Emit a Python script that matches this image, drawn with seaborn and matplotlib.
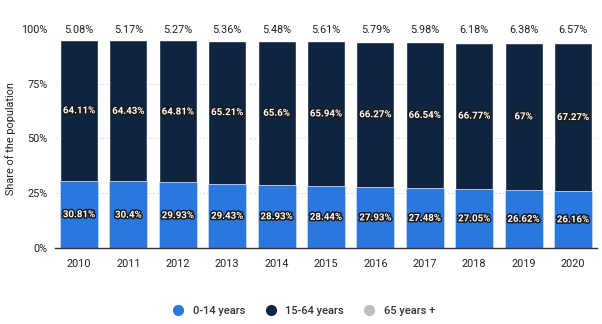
import matplotlib
matplotlib.use("Agg")
import matplotlib.pyplot as plt
import matplotlib.patheffects as pe
from matplotlib.lines import Line2D
import seaborn as sns
import pandas as pd
import numpy as np

years = ["2010", "2011", "2012", "2013", "2014", "2015", "2016", "2017", "2018", "2019", "2020"]
young = [30.81, 30.4, 29.93, 29.43, 28.93, 28.44, 27.93, 27.48, 27.05, 26.62, 26.16]
working = [64.11, 64.43, 64.81, 65.21, 65.6, 65.94, 66.27, 66.54, 66.77, 67.0, 67.27]
old = [5.08, 5.17, 5.27, 5.36, 5.48, 5.61, 5.79, 5.98, 6.18, 6.38, 6.57]
series_names = ["0-14 years", "15-64 years", "65 years +"]
colors = ["#2a77de", "#0f243f", "#bdbdbd"]

df = pd.DataFrame({"year": years, "young": young, "working": working, "old": old})
df["c1"] = df["young"]
df["c2"] = df["young"] + df["working"]
df["c3"] = df["c2"] + df["old"]

sns.set_theme(style="white")
plt.rcParams["font.family"] = ["Roboto", "DejaVu Sans"]

fig = plt.figure(figsize=(6.02, 3.24), dpi=100)
ax = fig.add_axes([0.091, 0.2346, 0.901, 0.676])

w = 0.77
sns.barplot(data=df, x="year", y="c3", color="white", width=w, ax=ax, saturation=1, zorder=2)
sns.barplot(data=df, x="year", y="c2", color=colors[1], width=w, ax=ax, saturation=1, zorder=3)
sns.barplot(data=df, x="year", y="c1", color=colors[0], width=w, ax=ax, saturation=1, zorder=4,
            edgecolor="#c8d6ec", linewidth=0.6)

ax.set_ylim(0, 100)
ax.set_xlim(-0.49, len(years) - 0.51)
ax.set_yticks([0, 25, 50, 75, 100])
ax.set_yticklabels(["0%", "25%", "50%", "75%", "100%"])
ax.tick_params(axis="both", labelsize=7.8, colors="#222222", length=0, pad=5)
ax.tick_params(axis="x", pad=8)
ax.set_xlabel("")
ax.set_ylabel("Share of the population", fontsize=7.8, color="#222222")
ax.yaxis.set_label_coords(-0.071, 0.5)
for v in [25, 50, 75]:
    ax.axhline(v, color="#d6d6d6", lw=0.7, ls=(0, (2, 2)), zorder=1)
for s in ["top", "right", "left"]:
    ax.spines[s].set_visible(False)
ax.spines["bottom"].set_color("#333333")
ax.spines["bottom"].set_linewidth(1.0)
ax.spines["bottom"].set_zorder(6)

stroke = [pe.withStroke(linewidth=2.2, foreground="#1a1a1a")]
for i in range(len(years)):
    ax.text(i, df["c1"][i] / 2, f"{young[i]:g}%", ha="center", va="center", fontsize=7,
            fontweight="bold", color="white", path_effects=stroke, zorder=7)
    ax.text(i, df["c1"][i] + working[i] / 2, f"{working[i]:g}%", ha="center", va="center", fontsize=7,
            fontweight="bold", color="white", path_effects=stroke, zorder=7)
    ax.text(i, 99.5, f"{old[i]:g}%", ha="center", va="center", fontsize=7.8,
            color="#222222", zorder=7, clip_on=False)

handles = [Line2D([0], [0], marker="o", ls="", markersize=7, markerfacecolor=c, markeredgecolor=c)
           for c in colors]
fig.legend(handles, series_names, loc="center", bbox_to_anchor=(0.5, 0.04), ncol=3, frameon=False,
           handletextpad=0.3, columnspacing=1.3, labelcolor="#333333",
           prop={"family": ["Roboto"], "size": 8, "weight": "medium"})

fig.savefig("out.png", dpi=100)
